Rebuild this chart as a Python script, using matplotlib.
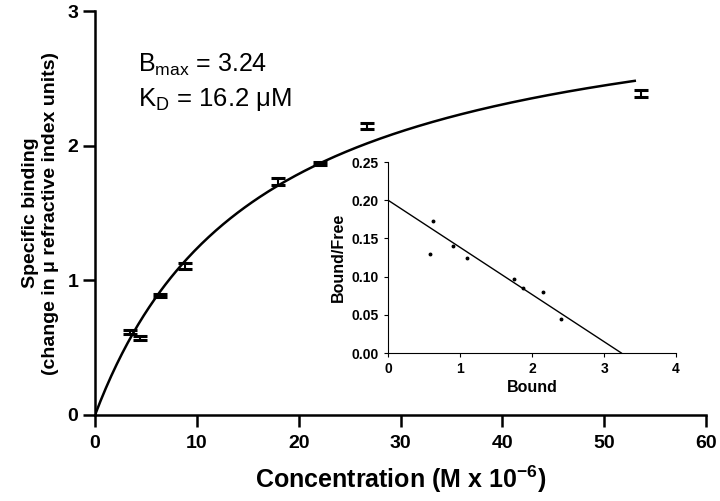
import matplotlib
matplotlib.use("Agg")
import matplotlib.pyplot as plt
import numpy as np

# Saturation binding data
conc = [3.45, 4.4, 6.4, 8.8, 18.0, 22.1, 26.7, 53.6]
binding = [0.615, 0.575, 0.89, 1.105, 1.735, 1.87, 2.145, 2.385]
binding_err = [0.015, 0.015, 0.012, 0.02, 0.025, 0.012, 0.02, 0.025]
bmax = 3.24
kd = 16.2
curve_end = 53.0

# Scatchard inset data
bound = [0.58, 0.62, 0.9, 1.1, 1.75, 1.88, 2.15, 2.4]
bound_free = [0.130, 0.173, 0.140, 0.124, 0.097, 0.085, 0.080, 0.045]
scat_x = [0, 3.24]
scat_y = [0.2, 0.0]
ins_xticks = [0, 1, 2, 3, 4]
ins_yticks = [0, 0.05, 0.10, 0.15, 0.20, 0.25]
ins_ylabels = ['0.00', '0.05', '0.10', '0.15', '0.20', '0.25']

plt.rcParams['font.family'] = ['Liberation Sans', 'DejaVu Sans']
plt.rcParams['mathtext.fontset'] = 'custom'
plt.rcParams['mathtext.rm'] = 'Liberation Sans'
plt.rcParams['mathtext.bf'] = 'Liberation Sans:bold'

fig = plt.figure(figsize=(7.2, 5.01), dpi=100)
ax = fig.add_axes([0.132, 0.1717, 0.8486, 0.8063])

xs = np.linspace(0, curve_end, 300)
ax.plot(xs, bmax * xs / (kd + xs), color='black', lw=1.8)
ax.errorbar(conc, binding, yerr=binding_err, fmt='none', ecolor='black',
            elinewidth=1.5, capsize=5, capthick=2.2)

ax.set_xlim(0, 60)
ax.set_ylim(0, 3)
ax.set_xticks(range(0, 61, 10))
ax.set_yticks([0, 1, 2, 3])
for s in ['top', 'right']:
    ax.spines[s].set_visible(False)
for s in ['left', 'bottom']:
    ax.spines[s].set_linewidth(1.8)
ax.tick_params(direction='out', length=8.5, width=1.8)
ax.tick_params(axis='x', pad=6)
for lab in ax.get_xticklabels():
    lab.set_fontweight('bold')
    lab.set_fontsize(14)
for lab in ax.get_yticklabels():
    lab.set_fontweight('bold')
    lab.set_fontsize(14)

ax.set_xlabel('Concentration (M x 10$^{\\mathbf{-6}}$)', fontsize=18,
              fontweight='bold', labelpad=8)
ax.set_ylabel('Specific binding\n(change in \u03bc refractive index units)',
              fontsize=14, fontweight='bold', labelpad=6, linespacing=1.25)

ax.text(0.07, 0.866, 'B$_{\\mathrm{max}}$ = 3.24', transform=ax.transAxes,
        fontsize=18, va='center')
ax.text(0.07, 0.78, 'K$_\\mathrm{D}$ = 16.2 \u03bcM', transform=ax.transAxes,
        fontsize=18.5, va='center')

# Scatchard inset
ins = fig.add_axes([0.539, 0.2954, 0.4, 0.3812])
ins.plot(scat_x, scat_y, color='black', lw=1.0)
ins.plot(bound, bound_free, 'o', color='black', ms=1.8)
ins.set_xlim(0, 4)
ins.set_ylim(0, 0.25)
ins.set_xticks(ins_xticks)
ins.set_xticklabels([str(t) for t in ins_xticks], fontweight='bold', fontsize=10)
ins.set_yticks(ins_yticks)
ins.set_yticklabels(ins_ylabels, fontweight='bold', fontsize=10)
for s in ['top', 'right']:
    ins.spines[s].set_visible(False)
ins.tick_params(direction='out', length=3, width=0.8)
ins.set_xlabel('Bound', fontsize=11.5, fontweight='bold', labelpad=3)
ins.set_ylabel('Bound/Free', fontsize=11.5, fontweight='bold', labelpad=4)

fig.savefig('out.png', dpi=100)
